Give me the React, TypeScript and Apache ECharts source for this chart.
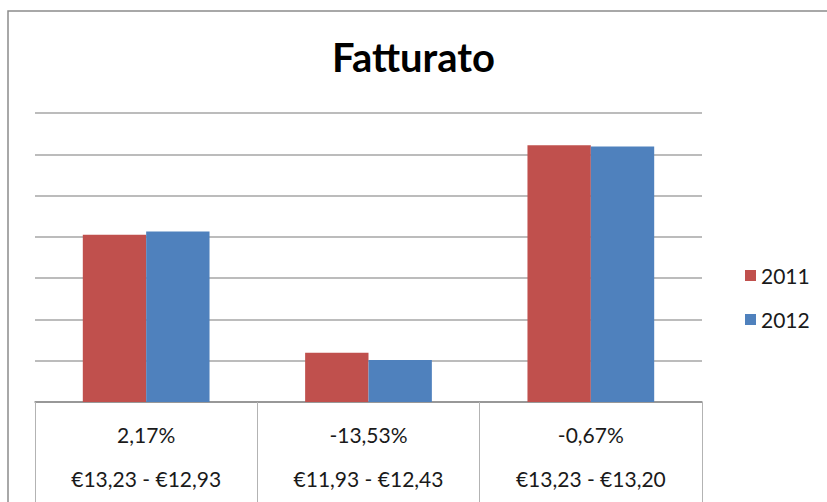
import React, { useEffect, useRef } from "react";
import * as echarts from "echarts";

const changePct = ["2,17%", "-13,53%", "-0,67%"];
const priceRange = ["€13,23 - €12,93", "€11,93 - €12,43", "€13,23 - €13,20"];
const seriesNames = ["2011", "2012"];
const values2011 = [4.05, 1.19, 6.22];
const values2012 = [4.13, 1.02, 6.19];

const categories = changePct.map((p, i) => `${p}|${priceRange[i]}`);

export default function App() {
  const ref = useRef<HTMLDivElement>(null);
  useEffect(() => {
    if (!ref.current) return;
    const chart = echarts.init(ref.current, null, { renderer: "svg" });
    const font = "Lato, 'Liberation Sans', sans-serif";
    chart.setOption({
      animation: false,
      backgroundColor: "#ffffff",
      title: {
        text: "Fatturato",
        left: "center",
        top: 32,
        textStyle: { fontFamily: font, fontSize: 40, fontWeight: "bold", color: "#000000" },
      },
      legend: {
        orient: "vertical",
        left: 740,
        top: 260,
        itemWidth: 11,
        itemHeight: 11,
        itemGap: 23,
        icon: "rect",
        data: seriesNames,
        textStyle: { fontFamily: font, fontSize: 21, color: "#1a1a1a", lineHeight: 20 },
      },
      grid: { left: 35, right: 125, top: 113, bottom: 100, containLabel: false },
      xAxis: {
        type: "category",
        data: categories,
        axisLine: { show: true, lineStyle: { color: "#8c8c8c", width: 1.5 } },
        axisTick: { show: true, length: 100, interval: 0, lineStyle: { color: "#b3b3b3", width: 1 } },
        axisLabel: {
          interval: 0,
          margin: 10,
          formatter: (v: string) => {
            const [a, b] = v.split("|");
            return `{a|${a}}\n{b|${b}}`;
          },
          rich: {
            a: { fontFamily: font, fontSize: 21, color: "#1a1a1a", lineHeight: 44, align: "center" },
            b: { fontFamily: font, fontSize: 21, color: "#1a1a1a", lineHeight: 44, align: "center" },
          },
        },
      },
      yAxis: {
        type: "value",
        min: 0,
        max: 7,
        interval: 1,
        axisLabel: { show: false },
        axisLine: { show: false },
        axisTick: { show: false },
        splitLine: { show: true, lineStyle: { color: "#a6a6a6", width: 1.5 } },
      },
      series: [
        {
          name: seriesNames[0],
          type: "bar",
          data: values2011,
          barGap: "0%",
          barCategoryGap: "43%",
          itemStyle: { color: "#C0504D" },
        },
        {
          name: seriesNames[1],
          type: "bar",
          data: values2012,
          barGap: "0%",
          barCategoryGap: "43%",
          itemStyle: { color: "#4F81BD" },
        },
      ],
      graphic: [
        {
          type: "rect",
          shape: { x: 8, y: 11, width: 1000, height: 1000 },
          style: { fill: "none", stroke: "#8c8c8c", lineWidth: 1.5 },
          silent: true,
        },
      ],
    });
    return () => chart.dispose();
  }, []);
  return (
    <div
      ref={ref}
      style={{ position: "fixed", left: 0, top: 0, width: 827, height: 502 }}
    />
  );
}
